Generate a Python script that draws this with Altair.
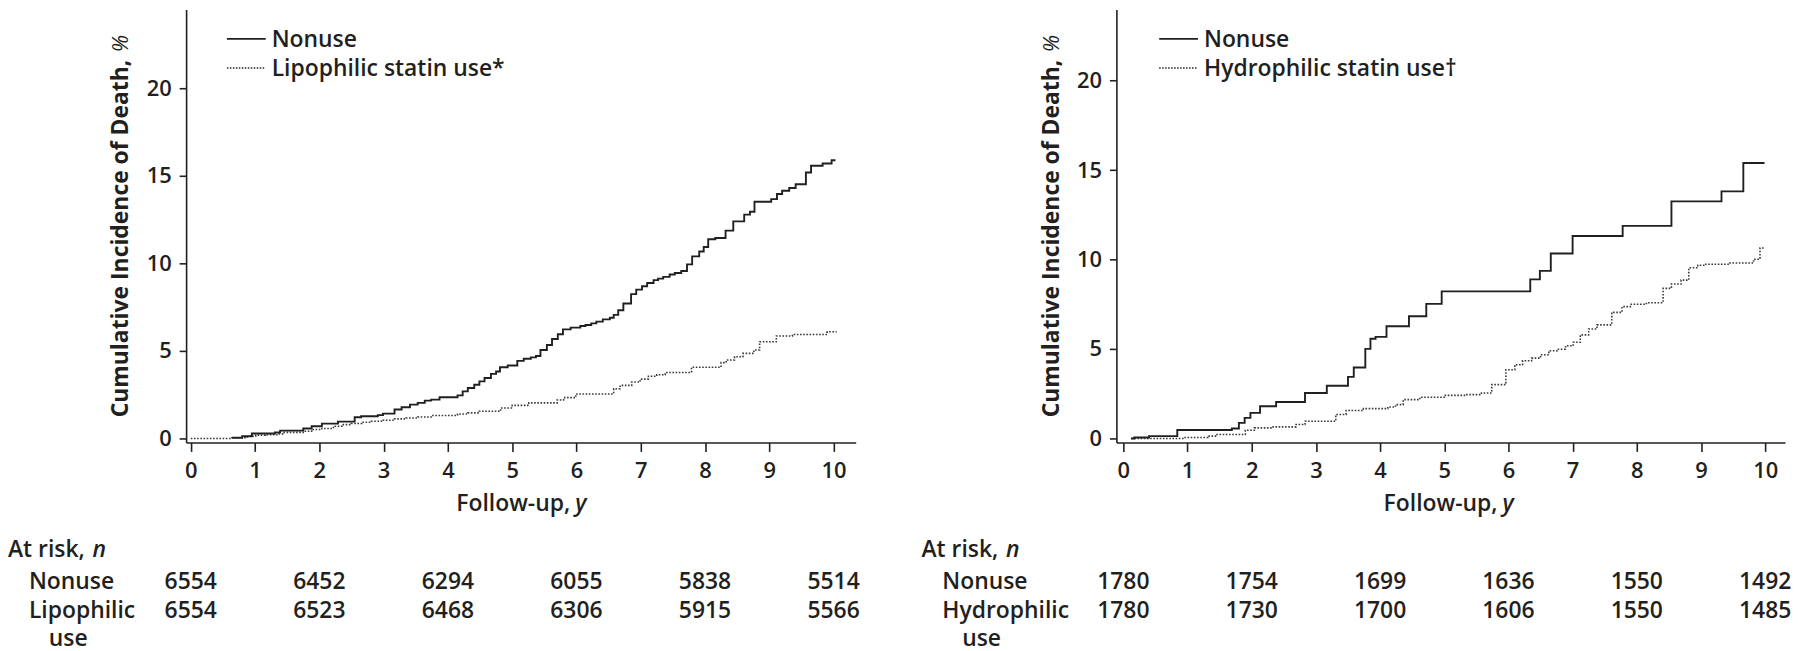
import altair as alt
import pandas as pd

# ---------------- data ----------------
# Left panel: lipophilic statins
lip_nonuse_t = [0.64, 0.80, 0.95, 1.31, 1.39, 1.75, 1.88, 2.04, 2.29, 2.55, 2.65, 2.91, 2.99, 3.17, 3.28,
                3.41, 3.53, 3.64, 3.74, 3.87, 4.15, 4.23, 4.31, 4.41, 4.49, 4.57, 4.67, 4.75, 4.81, 4.93,
                5.08, 5.18, 5.29, 5.37, 5.44, 5.54, 5.62, 5.71, 5.79, 5.91, 6.06, 6.14, 6.23, 6.31, 6.41,
                6.52, 6.58, 6.65, 6.73, 6.85, 6.93, 7.02, 7.10, 7.20, 7.27, 7.35, 7.45, 7.53, 7.63, 7.72,
                7.80, 7.91, 7.98, 8.05, 8.16, 8.32, 8.44, 8.61, 8.70, 8.77, 9.03, 9.12, 9.20, 9.31, 9.41,
                9.57, 9.65, 9.83, 9.97, 10.03]
lip_nonuse_v = [0.04, 0.13, 0.28, 0.35, 0.45, 0.57, 0.70, 0.85, 0.96, 1.21, 1.27, 1.33, 1.42, 1.65, 1.78,
                1.93, 2.03, 2.16, 2.22, 2.35, 2.46, 2.69, 2.88, 3.07, 3.26, 3.45, 3.69, 3.82, 4.07, 4.17,
                4.43, 4.55, 4.63, 4.71, 5.05, 5.34, 5.68, 5.95, 6.23, 6.33, 6.42, 6.48, 6.57, 6.67, 6.80,
                6.89, 7.06, 7.32, 7.71, 8.24, 8.50, 8.69, 8.88, 9.04, 9.13, 9.23, 9.36, 9.45, 9.56, 9.94,
                10.40, 10.68, 10.93, 11.38, 11.45, 11.87, 12.40, 12.78, 12.95, 13.52, 13.67, 13.96, 14.15, 14.30, 14.52,
                15.19, 15.57, 15.70, 15.89, 15.89]
lip_use_t = [0.00, 0.64, 0.88, 1.01, 1.16, 1.37, 1.44, 1.75, 1.88, 2.04, 2.22, 2.35, 2.50, 2.66, 2.81,
             2.99, 3.17, 3.35, 3.53, 3.74, 4.15, 4.31, 4.49, 4.82, 5.00, 5.26, 5.70, 5.80, 5.99, 6.58,
             6.68, 6.86, 6.99, 7.12, 7.25, 7.38, 7.79, 8.25, 8.33, 8.46, 8.59, 8.76, 8.85, 9.11, 9.36,
             9.90, 10.05]
lip_use_v = [0.00, 0.04, 0.13, 0.19, 0.22, 0.26, 0.35, 0.41, 0.51, 0.57, 0.70, 0.79, 0.85, 0.93, 0.98,
             1.04, 1.12, 1.17, 1.23, 1.31, 1.40, 1.46, 1.55, 1.74, 1.89, 2.03, 2.20, 2.33, 2.54, 2.84,
             3.03, 3.22, 3.39, 3.55, 3.64, 3.77, 4.07, 4.33, 4.48, 4.67, 4.86, 5.05, 5.52, 5.85, 5.94,
             6.09, 6.09]

# Right panel: hydrophilic statins
hyd_nonuse_t = [0.12, 0.17, 0.40, 0.84, 1.69, 1.80, 1.89, 1.98, 2.13, 2.38, 2.83, 3.17, 3.50, 3.59, 3.77,
                3.85, 3.93, 4.10, 4.45, 4.72, 4.96, 6.34, 6.49, 6.66, 7.00, 7.78, 8.54, 9.32, 9.66, 9.99]
hyd_nonuse_v = [0.00, 0.05, 0.13, 0.47, 0.56, 0.87, 1.15, 1.43, 1.80, 2.04, 2.54, 2.95, 3.44, 3.97, 5.01,
                5.57, 5.68, 6.27, 6.83, 7.52, 8.22, 8.89, 9.37, 10.34, 11.32, 11.88, 13.25, 13.81, 15.40, 15.40]
hyd_use_t = [0.12, 0.94, 1.32, 1.46, 1.90, 2.04, 2.32, 2.69, 2.83, 3.31, 3.47, 3.74, 4.12, 4.24, 4.36,
             4.62, 5.00, 5.34, 5.58, 5.74, 5.96, 6.10, 6.22, 6.36, 6.50, 6.63, 6.76, 6.89, 7.01, 7.12,
             7.25, 7.38, 7.61, 7.77, 7.90, 8.15, 8.41, 8.54, 8.69, 8.81, 8.95, 9.06, 9.45, 9.82, 9.92,
             10.00]
hyd_use_v = [0.00, 0.05, 0.13, 0.22, 0.46, 0.59, 0.65, 0.78, 0.96, 1.34, 1.56, 1.67, 1.76, 1.89, 2.17,
             2.30, 2.41, 2.45, 2.54, 3.01, 3.84, 4.12, 4.34, 4.49, 4.68, 4.90, 4.99, 5.18, 5.38, 5.79,
             6.12, 6.35, 7.05, 7.37, 7.50, 7.59, 8.39, 8.63, 8.85, 9.54, 9.68, 9.74, 9.81, 10.02, 10.65,
             10.65]

# At-risk table
risk_years = [0, 2, 4, 6, 8, 10]
lip_risk_nonuse = ["6554", "6452", "6294", "6055", "5838", "5514"]
lip_risk_use = ["6554", "6523", "6468", "6306", "5915", "5566"]
hyd_risk_nonuse = ["1780", "1754", "1699", "1636", "1550", "1492"]
hyd_risk_use = ["1780", "1730", "1700", "1606", "1550", "1485"]

x_ticks = list(range(0, 11))
y_ticks = [0, 5, 10, 15, 20]

# ---------------- style ----------------
INK = "#231f20"
FONT = "Open Sans"
FS = 23

ONE = alt.Data(values=[{}])


def label(text, x, y, align="left", size=FS, weight=600, style="normal", angle=0, baseline="alphabetic"):
    return alt.Chart(ONE).mark_text(
        text=text, align=align, baseline=baseline, font=FONT, fontSize=size,
        fontWeight=weight, fontStyle=style, color=INK, angle=angle
    ).encode(x=alt.value(x), y=alt.value(y))


def legend_rule(x1, x2, y, dash=None, width=1.8):
    kw = dict(color=INK, strokeWidth=width)
    if dash:
        kw["strokeDash"] = dash
    return alt.Chart(ONE).mark_rule(**kw).encode(x=alt.value(x1), x2=alt.value(x2), y=alt.value(y))


def panel(nonuse_t, nonuse_v, use_t, use_v, risk_non, risk_use, xdom, ydom, w, h,
          use_name, risk_name, lx, ttl_x, xt_x):
    xs = alt.Scale(domain=xdom, nice=False, zero=False)
    ys = alt.Scale(domain=ydom, nice=False, zero=False)
    xax = alt.Axis(values=x_ticks, title=None, grid=False, tickSize=9, tickWidth=1.6,
                   domainWidth=1.6, domainColor=INK, tickColor=INK, labelColor=INK,
                   labelFont=FONT, labelFontSize=FS - 1, labelFontWeight=600, labelPadding=9,
                   labelFlush=False)
    yax = alt.Axis(values=y_ticks, title=None, grid=False, tickSize=7, tickWidth=1.6,
                   domainWidth=1.6, domainColor=INK, tickColor=INK, labelColor=INK,
                   labelFont=FONT, labelFontSize=FS - 1, labelFontWeight=600, labelPadding=8)

    df_non = pd.DataFrame({"t": nonuse_t, "v": nonuse_v})
    df_use = pd.DataFrame({"t": use_t, "v": use_v})
    use_line = alt.Chart(df_use).mark_line(
        interpolate="step-after", color="#3a3a3a", strokeWidth=1.6, strokeDash=[1.6, 1.6]
    ).encode(x=alt.X("t:Q", scale=xs, axis=xax), y=alt.Y("v:Q", scale=ys, axis=yax))
    non_line = alt.Chart(df_non).mark_line(
        interpolate="step-after", color=INK, strokeWidth=1.9
    ).encode(x=alt.X("t:Q", scale=xs, axis=xax), y=alt.Y("v:Q", scale=ys, axis=yax))

    df_risk = pd.DataFrame({"t": risk_years, "a": risk_non, "b": risk_use})
    risk_a = alt.Chart(df_risk).mark_text(
        align="center", baseline="alphabetic", font=FONT, fontSize=FS, fontWeight=600, color=INK
    ).encode(x=alt.X("t:Q", scale=xs, axis=xax), y=alt.value(582), text="a:N")
    risk_b = alt.Chart(df_risk).mark_text(
        align="center", baseline="alphabetic", font=FONT, fontSize=FS, fontWeight=600, color=INK
    ).encode(x=alt.X("t:Q", scale=xs, axis=xax), y=alt.value(611), text="b:N")

    layers = [
        use_line, non_line, risk_a, risk_b,
        legend_rule(lx, lx + 39, 29.3),
        legend_rule(lx, lx + 39, 58.7, dash=[1.5, 1.5], width=1.5),
        label("Nonuse", lx + 45, 37.7),
        label(use_name, lx + 45, 66.5),
        # y-axis title
        label("Cumulative Incidence of Death,", -58, 230, align="center", size=FS, weight="bold", angle=270),
        label("%", -58, 34, align="center", size=FS - 1, weight="normal", style="italic", angle=270),
        # x-axis title
        label("Follow-up,", xt_x, 503.7, align="right", size=FS),
        label("y", xt_x + 5, 503.7, align="left", size=FS, style="italic"),
        # at risk table
        label("At risk,", ttl_x, 550),
        label("n", ttl_x + 85, 550, style="italic"),
        label("Nonuse", ttl_x + 21, 582),
        label(risk_name, ttl_x + 21, 611),
        label("use", ttl_x + 41, 640),
    ]
    return alt.layer(*layers).properties(width=w, height=h)


left = panel(lip_nonuse_t, lip_nonuse_v, lip_use_t, lip_use_v, lip_risk_nonuse, lip_risk_use,
             [-0.0728, 10.345], [-0.227, 24.49], 673, 435,
             "Lipophilic statin use*", "Lipophilic", 41, -179, 386)
right = panel(hyd_nonuse_t, hyd_nonuse_v, hyd_use_t, hyd_use_v, hyd_risk_nonuse, hyd_risk_use,
              [-0.1085, 10.31], [-0.222, 23.97], 672, 435,
              "Hydrophilic statin use\u2020", "Hydrophilic", 43, -196, 383)

chart = alt.hconcat(left, right, spacing=262, bounds="flush", padding=0).configure_view(stroke=None)

chart.save("out.html", embed_options={"renderer": "svg", "actions": False})
